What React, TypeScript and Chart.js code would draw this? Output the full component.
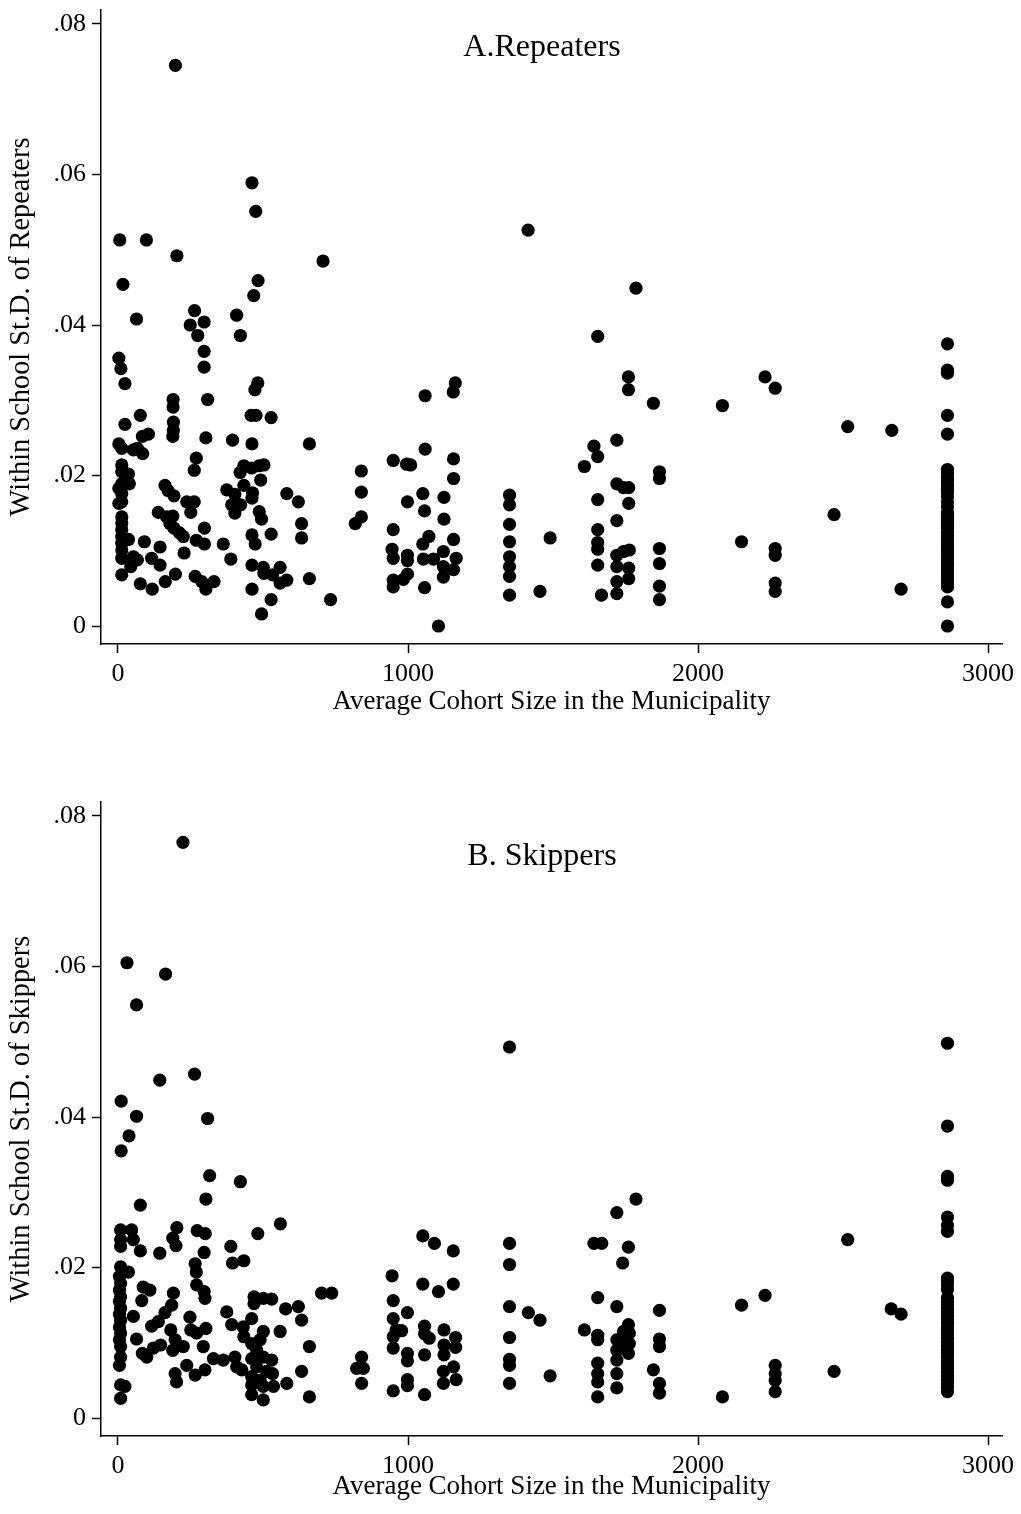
import React, { useEffect, useRef } from "react";
import { Chart, registerables } from "chart.js";

Chart.register(...registerables);

// ---- Data ----
const xTickValues = [0, 1000, 2000, 3000];
const xTickLabels = ["0", "1000", "2000", "3000"];
const yTickValues = [0, 0.02, 0.04, 0.06, 0.08];
const yTickLabels = ["0", ".02", ".04", ".06", ".08"];

const xAxisTitle = "Average Cohort Size in the Municipality";
const repeatersTitle = "A.Repeaters";
const repeatersYTitle = "Within School St.D. of Repeaters";
const skippersTitle = "B. Skippers";
const skippersYTitle = "Within School St.D. of Skippers";

// [average cohort size, within-school st.d.]
const repeatersPoints: [number, number][] = [
  [198, 0.0745], [462, 0.0589], [475, 0.0551], [6, 0.0513], [98, 0.0513], [203, 0.0492],
  [707, 0.0485], [17, 0.0454], [483, 0.0459], [468, 0.0439], [64, 0.0408], [264, 0.0419],
  [297, 0.0404], [249, 0.04], [409, 0.0413], [275, 0.0386], [422, 0.0386], [297, 0.0365],
  [297, 0.0344], [3, 0.0356], [10, 0.0342], [24, 0.0322], [482, 0.0323], [472, 0.0314],
  [190, 0.0301], [190, 0.0291], [309, 0.0301], [77, 0.028], [24, 0.0268], [191, 0.0271],
  [191, 0.026], [189, 0.0252], [84, 0.0252], [105, 0.0255], [459, 0.028], [476, 0.028],
  [528, 0.0277], [303, 0.025], [395, 0.0247], [462, 0.0242], [660, 0.0242], [3, 0.0242],
  [13, 0.0236], [53, 0.0234], [67, 0.0236], [85, 0.0229], [270, 0.0223], [263, 0.0207],
  [13, 0.0214], [13, 0.0205], [36, 0.0202], [13, 0.0189], [39, 0.0189], [3, 0.0183],
  [13, 0.0176], [13, 0.0165], [3, 0.0163], [13, 0.0145], [13, 0.0137], [13, 0.0128],
  [13, 0.0119], [36, 0.0115], [13, 0.011], [13, 0.0101], [13, 0.009], [53, 0.0092],
  [67, 0.0088], [44, 0.0079], [13, 0.0068], [91, 0.0112], [145, 0.0105], [116, 0.009],
  [145, 0.0081], [77, 0.0056], [118, 0.0049], [163, 0.0059], [198, 0.0069], [139, 0.0151],
  [162, 0.0187], [173, 0.018], [193, 0.0173], [168, 0.0145], [189, 0.0146], [179, 0.0136],
  [193, 0.013], [211, 0.0124], [225, 0.0119], [237, 0.0165], [263, 0.0165], [251, 0.0151],
  [228, 0.0097], [298, 0.013], [270, 0.0114], [298, 0.0109], [266, 0.0066], [289, 0.0059],
  [303, 0.0049], [331, 0.0059], [363, 0.0109], [389, 0.0089], [375, 0.0181], [403, 0.0175],
  [392, 0.0161], [403, 0.015], [423, 0.0161], [434, 0.0213], [421, 0.0204], [461, 0.021],
  [487, 0.0213], [503, 0.0214], [492, 0.0194], [434, 0.0187], [464, 0.0177], [462, 0.017],
  [487, 0.0152], [495, 0.0142], [462, 0.0121], [473, 0.0109], [528, 0.0122], [462, 0.0081],
  [501, 0.0078], [503, 0.007], [533, 0.0068], [559, 0.0078], [559, 0.0057], [582, 0.0061],
  [462, 0.0049], [528, 0.0035], [495, 0.0016], [582, 0.0176], [622, 0.0165], [633, 0.0136],
  [633, 0.0117], [660, 0.0063], [733, 0.0035], [839, 0.0206], [839, 0.0178], [839, 0.0145],
  [818, 0.0136], [949, 0.022], [949, 0.0128], [945, 0.0102], [949, 0.009], [949, 0.0061],
  [949, 0.0052], [1059, 0.0306], [1163, 0.0323], [1156, 0.0311], [1059, 0.0235], [995, 0.0215],
  [1009, 0.0214], [1157, 0.0222], [1157, 0.0196], [1051, 0.0176], [1124, 0.0171], [998, 0.0165],
  [1057, 0.0153], [1124, 0.0142], [1072, 0.0119], [1051, 0.0109], [1157, 0.0115], [998, 0.0094],
  [998, 0.0087], [1053, 0.0089], [1088, 0.0089], [1122, 0.0099], [1122, 0.0079], [1157, 0.0075],
  [1166, 0.009], [1122, 0.0065], [998, 0.0069], [984, 0.0062], [1057, 0.0051], [1105, 0.0],
  [1350, 0.0174], [1350, 0.0161], [1350, 0.0135], [1350, 0.0112], [1350, 0.0092], [1350, 0.0079],
  [1350, 0.0066], [1350, 0.0041], [1490, 0.0117], [1455, 0.0046], [1414, 0.0526], [1786, 0.0449],
  [1654, 0.0385], [1760, 0.0331], [1760, 0.0314], [1846, 0.0296], [1641, 0.0239], [1654, 0.0225],
  [1608, 0.0212], [1720, 0.0247], [1720, 0.0189], [1743, 0.0184], [1761, 0.0184], [1761, 0.0163],
  [1654, 0.0168], [1720, 0.014], [1654, 0.0128], [1654, 0.0111], [1654, 0.0102], [1654, 0.0081],
  [1667, 0.0041], [1720, 0.0094], [1743, 0.0099], [1763, 0.0101], [1720, 0.0079], [1761, 0.0077],
  [1761, 0.0063], [1720, 0.0059], [1720, 0.0043], [1867, 0.0205], [1867, 0.0196], [1867, 0.0103],
  [1867, 0.0083], [1867, 0.0053], [1867, 0.0035], [2084, 0.0293], [2231, 0.0331], [2266, 0.0316],
  [2516, 0.0265], [2668, 0.026], [2469, 0.0148], [2150, 0.0112], [2266, 0.0103], [2266, 0.0094],
  [2266, 0.0057], [2266, 0.0046], [2700, 0.0049],
  [2860, 0.0375], [2860, 0.034], [2860, 0.0336], [2860, 0.028], [2860, 0.0255], [2860, 0.0208],
  [2860, 0.0203], [2860, 0.0198], [2860, 0.0193], [2860, 0.0188], [2860, 0.0183], [2860, 0.0178],
  [2860, 0.0172], [2860, 0.0165], [2860, 0.0158], [2860, 0.015], [2860, 0.0146], [2860, 0.0142],
  [2860, 0.0138], [2860, 0.0134], [2860, 0.013], [2860, 0.0125], [2860, 0.0121], [2860, 0.0117],
  [2860, 0.0112], [2860, 0.0108], [2860, 0.0104], [2860, 0.01], [2860, 0.0096], [2860, 0.0092],
  [2860, 0.0088], [2860, 0.0084], [2860, 0.008], [2860, 0.0076], [2860, 0.0072], [2860, 0.0068],
  [2860, 0.0064], [2860, 0.006], [2860, 0.0056], [2860, 0.0052], [2860, 0.0032], [2860, 0.0],
];

const skippersPoints: [number, number][] = [
  [224, 0.0765], [31, 0.0605], [164, 0.059], [64, 0.0549], [264, 0.0457], [144, 0.0449],
  [11, 0.0421], [64, 0.0401], [309, 0.0398], [38, 0.0375], [11, 0.0355], [316, 0.0322],
  [422, 0.0314], [303, 0.0291], [77, 0.0283], [560, 0.0258], [482, 0.0245], [203, 0.0253],
  [189, 0.0239], [200, 0.0229], [273, 0.0249], [301, 0.0245], [297, 0.022], [9, 0.025],
  [47, 0.025], [9, 0.0237], [53, 0.0237], [9, 0.0228], [77, 0.0222], [144, 0.0219],
  [389, 0.0228], [395, 0.0206], [434, 0.0209], [266, 0.0205], [270, 0.0194], [9, 0.0201],
  [36, 0.0194], [5, 0.0188], [9, 0.0179], [5, 0.017], [9, 0.0161], [5, 0.0155], [9, 0.0146],
  [5, 0.0138], [9, 0.013], [5, 0.0121], [9, 0.0113], [5, 0.0104], [9, 0.0095], [9, 0.0081],
  [5, 0.007], [87, 0.0174], [110, 0.017], [82, 0.0156], [53, 0.0135], [64, 0.0105],
  [9, 0.0044], [24, 0.0042], [9, 0.0026], [84, 0.0086], [99, 0.0081], [122, 0.0093],
  [147, 0.0097], [116, 0.0122], [139, 0.0128], [162, 0.014], [185, 0.015], [191, 0.0166],
  [182, 0.0117], [197, 0.0104], [189, 0.009], [225, 0.0095], [237, 0.007], [197, 0.0059],
  [202, 0.0048], [266, 0.0057], [300, 0.0064], [248, 0.0134], [251, 0.0117], [271, 0.0113],
  [303, 0.0119], [294, 0.0095], [271, 0.0177], [297, 0.0168], [300, 0.0159], [329, 0.0079],
  [363, 0.0077], [403, 0.0081], [409, 0.0068], [427, 0.0064], [375, 0.0141], [392, 0.0124],
  [432, 0.0121], [434, 0.0108], [461, 0.0132], [469, 0.0161], [501, 0.0159], [530, 0.0158],
  [501, 0.0115], [559, 0.0115], [469, 0.0152], [461, 0.0099], [490, 0.0104], [478, 0.009],
  [461, 0.0079], [501, 0.0081], [530, 0.0077], [478, 0.0068], [512, 0.0062], [533, 0.0059],
  [461, 0.0055], [490, 0.005], [461, 0.0044], [501, 0.0042], [536, 0.0042], [461, 0.0031],
  [501, 0.0024], [582, 0.0046], [578, 0.0145], [622, 0.0148], [633, 0.013], [660, 0.0095],
  [633, 0.0062], [660, 0.0028], [702, 0.0166], [737, 0.0166], [840, 0.0081], [823, 0.0066],
  [846, 0.0066], [840, 0.0046], [945, 0.0189], [949, 0.0156], [949, 0.0132], [949, 0.0108],
  [959, 0.0117], [949, 0.0093], [949, 0.0036], [1350, 0.0493], [1786, 0.0291], [1720, 0.0273],
  [1641, 0.0232], [1668, 0.0232], [1760, 0.0227], [1740, 0.0206], [1654, 0.016], [1720, 0.0148],
  [1608, 0.0117], [1654, 0.011], [1654, 0.0104], [1760, 0.0124], [1743, 0.0115], [1763, 0.0113],
  [1720, 0.0104], [1743, 0.0099], [1763, 0.0099], [1720, 0.009], [1760, 0.0086], [1720, 0.0077],
  [1720, 0.0059], [1720, 0.004], [1654, 0.0073], [1654, 0.0059], [1654, 0.0048], [1654, 0.0028],
  [1846, 0.0064], [1867, 0.0143], [1867, 0.0105], [1867, 0.0095], [1867, 0.0046], [1867, 0.0033],
  [1350, 0.0232], [1350, 0.0204], [1350, 0.0148], [1350, 0.0107], [1350, 0.0078], [1350, 0.007],
  [1350, 0.0046], [1415, 0.014], [1455, 0.013], [1490, 0.0056], [1051, 0.0242], [1091, 0.0232],
  [1156, 0.0222], [1051, 0.0178], [1105, 0.0168], [1156, 0.0178], [998, 0.014], [978, 0.0116],
  [1057, 0.0122], [1057, 0.0112], [1073, 0.0106], [1124, 0.0117], [1164, 0.0107], [1164, 0.0094],
  [1124, 0.0097], [1124, 0.0084], [998, 0.0086], [998, 0.0076], [1057, 0.0084], [1122, 0.0062],
  [1157, 0.0068], [1166, 0.0051], [1122, 0.0046], [998, 0.0051], [998, 0.0043], [1057, 0.0031],
  [2516, 0.0237], [2150, 0.015], [2231, 0.0163], [2666, 0.0145], [2700, 0.0138], [2469, 0.0062],
  [2266, 0.007], [2266, 0.0059], [2266, 0.005], [2266, 0.0035], [2084, 0.0028],
  [2860, 0.0498], [2860, 0.0388], [2860, 0.0321], [2860, 0.0316], [2860, 0.0267], [2860, 0.0256],
  [2860, 0.0248], [2860, 0.0186], [2860, 0.0182], [2860, 0.0177], [2860, 0.0171], [2860, 0.016],
  [2860, 0.0155], [2860, 0.0151], [2860, 0.0146], [2860, 0.0141], [2860, 0.0136], [2860, 0.0131],
  [2860, 0.0126], [2860, 0.0121], [2860, 0.0116], [2860, 0.0111], [2860, 0.0106], [2860, 0.0101],
  [2860, 0.0096], [2860, 0.0091], [2860, 0.0086], [2860, 0.0081], [2860, 0.0076], [2860, 0.0071],
  [2860, 0.0066], [2860, 0.0061], [2860, 0.0056], [2860, 0.0051], [2860, 0.0046], [2860, 0.0041],
  [2860, 0.0035],
];

// ---- Chart construction ----
const FONT = '"Liberation Serif", "Times New Roman", serif';

const panelTitlePlugin = {
  id: "panelTitle",
  afterDatasetsDraw(chart: any, _args: any, opts: any) {
    const { ctx, chartArea } = chart;
    ctx.save();
    ctx.font = `32px ${FONT}`;
    ctx.fillStyle = "#000";
    ctx.textAlign = "center";
    ctx.textBaseline = "middle";
    ctx.fillText(opts.text, opts.x, chartArea.top + opts.dy);
    ctx.restore();
  },
};

function makeChart(
  canvas: HTMLCanvasElement,
  points: [number, number][],
  title: string,
  yTitle: string,
  xAxisHeight: number,
  xTitlePadBottom: number,
  titleDy: number
) {
  return new Chart(canvas, {
    type: "scatter",
    data: {
      datasets: [
        {
          data: points.map(([x, y]) => ({ x, y })),
          backgroundColor: "#000",
          borderWidth: 0,
          pointRadius: 6.6,
          pointHoverRadius: 6.6,
          clip: false as any,
        },
      ],
    },
    plugins: [panelTitlePlugin as any],
    options: {
      animation: false,
      responsive: false,
      devicePixelRatio: 1,
      layout: { padding: { left: 0, right: 19, top: 10, bottom: 0 } },
      plugins: {
        legend: { display: false },
        tooltip: { enabled: false },
        panelTitle: { text: title, x: 542, dy: titleDy },
      } as any,
      scales: {
        x: {
          type: "linear",
          min: -58.6,
          max: 3048,
          afterBuildTicks: (s: any) => {
            s.ticks = xTickValues.map((v) => ({ value: v }));
          },
          afterFit: (s: any) => {
            s.height = xAxisHeight;
            s.paddingLeft = 0;
            s.paddingRight = 0;
          },
          ticks: {
            autoSkip: false,
            maxRotation: 0,
            padding: 6,
            color: "#000",
            font: { family: FONT, size: 26 },
            callback: (_v: any, i: number) => xTickLabels[i],
          },
          grid: {
            display: true,
            drawOnChartArea: false,
            drawTicks: true,
            tickLength: 9,
            tickWidth: 1.5,
            tickColor: "#000",
          },
          border: { display: true, color: "#000", width: 1.5 },
          title: {
            display: true,
            text: xAxisTitle,
            color: "#000",
            font: { family: FONT, size: 27 },
            padding: { top: 0, bottom: xTitlePadBottom },
          },
        },
        y: {
          type: "linear",
          min: -0.00239,
          max: 0.08186,
          afterBuildTicks: (s: any) => {
            s.ticks = yTickValues.map((v) => ({ value: v }));
          },
          afterFit: (s: any) => {
            s.width = 101;
            s.paddingTop = 0;
            s.paddingBottom = 0;
          },
          ticks: {
            autoSkip: false,
            padding: 6,
            color: "#000",
            font: { family: FONT, size: 26 },
            callback: (_v: any, i: number) => yTickLabels[i],
          },
          grid: {
            display: true,
            drawOnChartArea: false,
            drawTicks: true,
            tickLength: 9,
            tickWidth: 1.5,
            tickColor: "#000",
          },
          border: { display: true, color: "#000", width: 1.5 },
          title: {
            display: true,
            text: yTitle,
            color: "#000",
            font: { family: FONT, size: 28.4 },
            padding: { top: 5, bottom: 0 },
          },
        },
      },
    } as any,
  });
}

export default function App() {
  const refA = useRef<HTMLCanvasElement | null>(null);
  const refB = useRef<HTMLCanvasElement | null>(null);

  useEffect(() => {
    if (!refA.current || !refB.current) return;
    const a = makeChart(refA.current, repeatersPoints, repeatersTitle, repeatersYTitle, 148, 74, 38);
    const b = makeChart(refB.current, skippersPoints, skippersTitle, skippersYTitle, 78, 11, 55);
    return () => {
      a.destroy();
      b.destroy();
    };
  }, []);

  return (
    <div style={{ position: "absolute", left: 0, top: 0, width: 1021, height: 1514, background: "#fff" }}>
      <canvas ref={refA} width={1021} height={792} style={{ display: "block", width: 1021, height: 792 }} />
      <canvas ref={refB} width={1021} height={722} style={{ display: "block", width: 1021, height: 722 }} />
    </div>
  );
}
